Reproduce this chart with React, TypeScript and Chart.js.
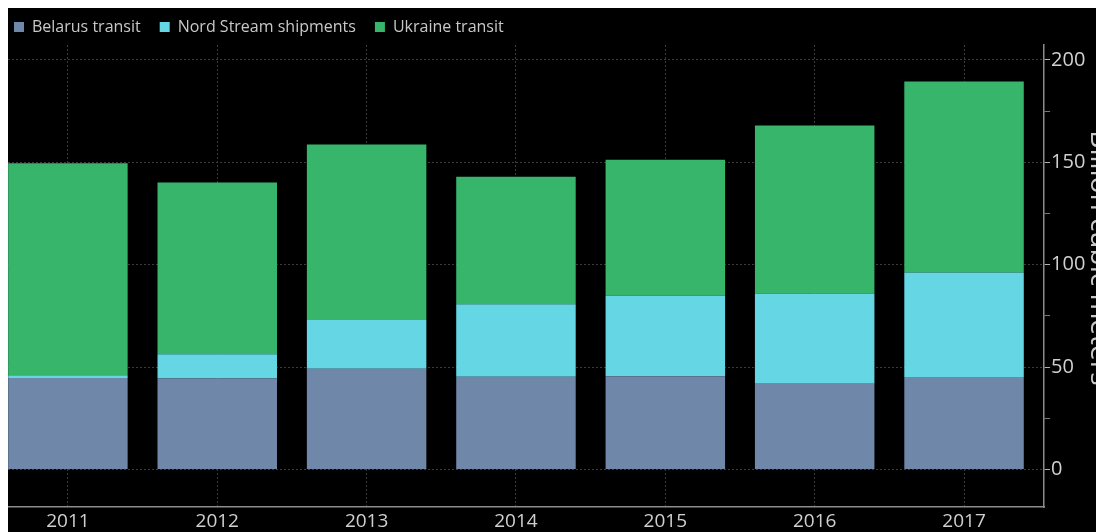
import React, { useEffect, useRef } from 'react';
import { Chart, registerables } from 'chart.js';

Chart.register(...registerables);

// ---- data ----
const years = ['2011', '2012', '2013', '2014', '2015', '2016', '2017'];
const belarusTransit = [44.7, 44.5, 49.2, 45.3, 45.6, 41.9, 45.2];
const nordStreamShipments = [1.3, 11.8, 23.8, 35.4, 39.2, 44.0, 51.0];
const ukraineTransit = [103.5, 83.9, 85.7, 62.3, 66.5, 82.1, 93.3];
const yMajorTicks = [0, 50, 100, 150, 200];
const seriesNames = ['Belarus transit', 'Nord Stream shipments', 'Ukraine transit'];
const axisTitle = 'Billion cubic meters';

const FONT = 'Open Sans';
const COLORS = ['#6f88aa', '#64d6e4', '#37b56b'];

export default function App() {
  const ref = useRef<HTMLCanvasElement>(null);

  useEffect(() => {
    document.documentElement.style.overflow = 'hidden';
    document.body.style.overflow = 'hidden';
    const toPoints = (arr: number[]) => arr.map((v, i) => ({ x: i, y: v }));
    const series = [belarusTransit, nordStreamShipments, ukraineTransit];
    const chart = new Chart(ref.current as HTMLCanvasElement, {
      type: 'bar',
      data: {
        datasets: series.map((s, k) => ({
          label: seriesNames[k],
          data: toPoints(s),
          backgroundColor: COLORS[k],
          borderColor: COLORS[k],
          borderWidth: 0,
          barPercentage: 1,
          categoryPercentage: 0.8,
        })),
      },
      options: {
        responsive: false,
        animation: false,
        devicePixelRatio: 1,
        layout: { padding: { left: -13, top: -8, right: 0, bottom: 0 } },
        plugins: {
          legend: {
            position: 'top',
            align: 'start',
            labels: {
              boxWidth: 10,
              boxHeight: 10,
              padding: 19,
              color: '#c8c8c8',
              font: { family: FONT, size: 16 },
            },
          },
          tooltip: { enabled: false },
        },
        scales: {
          x: {
            type: 'linear',
            stacked: true,
            min: -0.401,
            max: 6.536,
            offset: false,
            ticks: {
              stepSize: 1,
              includeBounds: false,
              autoSkip: false,
              maxRotation: 0,
              padding: 3,
              color: '#d0d0d0',
              font: { family: FONT, size: 19 },
              callback: (v: any) => (Number.isInteger(v) && years[v] ? years[v] : ''),
            },
            grid: { color: '#3c3c3c', drawTicks: false, lineWidth: 1, offset: false },
            border: { display: true, color: '#8c8c8c', width: 1.5, dash: [2, 2] },
          },
          y: {
            type: 'linear',
            stacked: true,
            position: 'right',
            min: -18.4,
            max: 207.3,
            ticks: {
              stepSize: 25,
              includeBounds: false,
              maxTicksLimit: 20,
              padding: 1,
              color: '#d0d0d0',
              font: { family: FONT, size: 20 },
              callback: (v: any) => (yMajorTicks.includes(v) ? String(v) : ''),
            },
            grid: {
              color: (ctx: any) => (yMajorTicks.includes(ctx.tick?.value) ? '#3c3c3c' : 'rgba(0,0,0,0)'),
              tickColor: (ctx: any) => (yMajorTicks.includes(ctx.tick?.value) ? '#b0b0b0' : '#777777'),
              tickLength: 6,
              lineWidth: 1,
            },
            border: { display: true, color: '#8c8c8c', width: 1.5, dash: [2, 2] },
            title: {
              display: true,
              text: axisTitle + '     ',
              color: '#c8c8c8',
              font: { family: FONT, size: 28 },
              padding: { top: 6, bottom: -4 },
            },
          },
        },
      } as any,
    });
    return () => chart.destroy();
  }, []);

  return (
    <div style={{ width: 1096, height: 524, overflow: 'hidden', background: '#000' }}>
      <canvas ref={ref} width={1114} height={528} style={{ display: 'block' }} />
    </div>
  );
}
